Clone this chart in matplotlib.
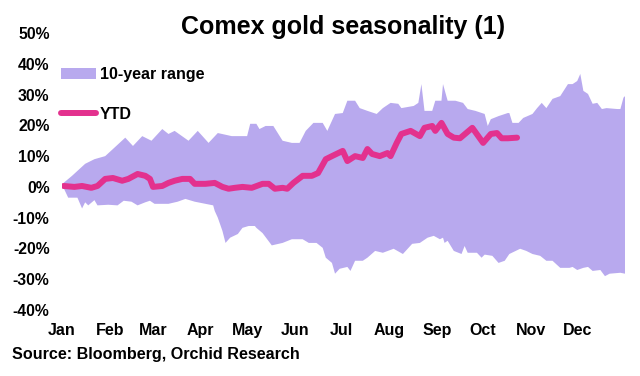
import matplotlib.pyplot as plt
import numpy as np
from matplotlib.patches import Patch
from matplotlib.lines import Line2D

plt.rcParams['font.family'] = ['Liberation Sans', 'DejaVu Sans']

# day of year, value in %
upper_day = [1, 6.5, 15, 21, 28, 33, 41, 46, 52, 58, 65, 69, 73, 82, 88, 95, 101, 110, 120, 122,
             126, 128, 132, 137, 143, 149, 154, 158, 163, 169, 172, 177, 182, 185, 190, 193, 198,
             204, 208, 213, 218, 220, 228, 231, 233, 235, 240, 242, 246, 247, 250, 255, 260, 263,
             268, 274, 276, 278, 283, 289, 290, 292, 296, 299, 305, 308, 311, 314, 318, 323, 328,
             331, 334, 336, 338, 341, 344, 347, 350, 353, 360, 362, 364, 365]
upper_val = [1.3, 3.6, 7.5, 9, 10, 12.3, 16, 13.3, 16.5, 15, 18.8, 17.2, 18.2, 15, 18.2, 14.3,
             17.5, 16.5, 16.5, 20.5, 20.5, 18.8, 19.8, 19.8, 15, 14.3, 14.3, 18.2, 20.8, 20.8, 18.2,
             23.7, 24, 28, 28, 25.6, 24.7, 23.7, 25.6, 27.3, 27, 25.6, 26.3, 27.3, 33.4, 24.7, 24.7,
             28, 28, 33.4, 28, 28, 27.3, 25.3, 24.7, 23.7, 19.8, 22, 23, 24, 24, 20.8, 20.8, 22.4,
             23.7, 25.6, 27.3, 25.6, 28.6, 29.5, 33.4, 33.4, 34.4, 36.7, 31.2, 30.2, 27, 27.3, 25.3,
             25.6, 25.3, 25.3, 29, 29.5]

lower_day = [1, 4, 10, 13, 15, 17, 21, 23, 30, 36, 40, 45, 49, 54, 57, 60, 69, 75, 80, 86, 93,
             98, 99, 101, 104, 106, 109, 114, 117, 121, 125, 126, 130, 136, 143, 149, 156, 160,
             165, 169, 171, 175, 177, 180, 185, 187, 190, 195, 198, 203, 208, 215, 221, 227, 232,
             237, 241, 245, 247, 248, 250, 254, 257, 259, 261, 263, 269, 272, 274, 279, 283, 287,
             290, 297, 301, 305, 310, 314, 318, 323, 329, 331, 334, 338, 341, 344, 349, 352, 355,
             362, 365]
lower_val = [-0.3, -3.5, -3.5, -7, -5, -6, -4.3, -6, -5.8, -6, -4.5, -4.8, -6, -5, -4.5, -5.5,
             -5.5, -4.8, -3.9, -4.8, -5.5, -6, -7.8, -10, -14.3, -18.2, -16.5, -15.3, -13.3, -12.7,
             -12.7, -13.3, -15, -19, -18.2, -17, -17, -18.2, -18.2, -19.8, -23, -24.7, -28.2,
             -26.6, -26, -27.3, -24, -24, -23, -20.8, -21.4, -20.1, -21.8, -18.5, -18.2, -16.5,
             -15.9, -17, -16.5, -18.2, -17.5, -20.8, -21.4, -21.8, -19.2, -21.4, -21.4, -23, -22,
             -22.4, -24.7, -24, -21.8, -20.1, -20.8, -21.8, -22.4, -24, -24, -26.3, -26.3, -26,
             -27, -26.3, -26, -27.3, -27, -29, -28.2, -27.9, -28.2]

ytd_day = [1, 8, 13, 19, 23, 28, 33, 39, 43, 49, 54, 57, 59, 65, 69, 73, 78, 83, 86, 93, 99,
           104, 108, 112, 117, 123, 130, 134, 138, 143, 146, 150, 156, 162, 166, 171, 175, 182,
           185, 190, 195, 198, 201, 206, 211, 213, 217, 220, 226, 232, 235, 240, 242, 246, 250,
           254, 258, 266, 273, 278, 282, 285, 289, 295]
ytd_val = [0.3, 0, 0.3, -0.3, 0.3, 2.6, 2.9, 2, 2.6, 4.2, 3.6, 2.6, 0, 0.3, 1.3, 2, 2.6, 2.6, 1,
           1, 1.3, 0, -0.6, -0.3, 0, -0.3, 1, 1, -0.6, -0.3, -0.6, 1.3, 3.6, 3.6, 4.5, 9, 10,
           11.7, 8.4, 10, 9.4, 12.3, 10.7, 10, 11, 10, 14.3, 17.2, 18.2, 16.5, 19.2, 19.8, 18.2,
           20.8, 17.2, 16, 15.8, 19.2, 14.3, 17.2, 17.5, 15.8, 15.8, 16]

months = ['Jan', 'Feb', 'Mar', 'Apr', 'May', 'Jun', 'Jul', 'Aug', 'Sep', 'Oct', 'Nov', 'Dec']
month_start = [0, 31, 59, 90, 120, 151, 181, 212, 243, 273, 304, 334]
y_ticks = [-40, -30, -20, -10, 0, 10, 20, 30, 40, 50]

range_color = '#B8A9EE'
ytd_color = '#E3318E'

fig = plt.figure(figsize=(6.4, 3.76), dpi=100)
ax = fig.add_axes([0.0969, 0.1755, 0.8797, 0.7367])

ax.fill(np.r_[upper_day, lower_day[::-1]], np.r_[upper_val, lower_val[::-1]],
        color=range_color, lw=0)
ax.plot(ytd_day, ytd_val, color=ytd_color, lw=4.3, solid_capstyle='round',
        solid_joinstyle='round')

ax.set_xlim(0, 365)
ax.set_ylim(-40, 50)
ax.set_xticks(month_start)
ax.set_xticklabels(months)
ax.set_yticks(y_ticks)
ax.set_yticklabels([f'{v}%' for v in y_ticks])
for s in ax.spines.values():
    s.set_visible(False)
ax.tick_params(axis='both', length=0)
ax.tick_params(axis='y', pad=9, labelsize=11.3)
ax.tick_params(axis='x', pad=9, labelsize=11.5)
for lab in ax.get_xticklabels() + ax.get_yticklabels():
    lab.set_fontweight('bold')

handles = [Patch(facecolor=range_color, edgecolor='none'),
           Line2D([0], [0], color=ytd_color, lw=4.3, solid_capstyle='round')]
fig.legend(handles, ['10-year range', 'YTD'], loc='upper left',
           bbox_to_anchor=(61 / 640, 1 - 67 / 376), frameon=False, borderpad=0,
           borderaxespad=0, labelspacing=1.55, handlelength=2.2, handletextpad=0.25,
           prop={'size': 11.5, 'weight': 'bold'})

fig.text(343 / 640, 1 - 34 / 376, 'Comex gold seasonality (1)', ha='center', va='baseline',
         fontsize=18, fontweight='bold')
fig.text(12 / 640, 1 - 355 / 376, 'Source: Bloomberg, Orchid Research', ha='left',
         va='center', fontsize=11.6, fontweight='bold')

fig.savefig('out.png', dpi=100)
